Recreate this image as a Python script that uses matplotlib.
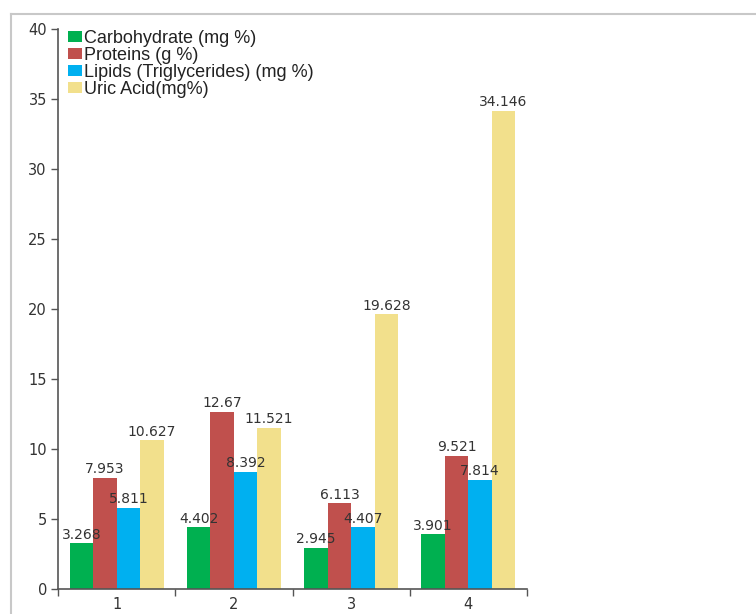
import matplotlib
matplotlib.use("Agg")
import matplotlib.pyplot as plt
from matplotlib.lines import Line2D
import numpy as np

categories = ["1", "2", "3", "4"]
series_names = ["Carbohydrate (mg %)", "Proteins (g %)",
                "Lipids (Triglycerides) (mg %)", "Uric Acid(mg%)"]
carbohydrate = [3.268, 4.402, 2.945, 3.901]
proteins = [7.953, 12.67, 6.113, 9.521]
lipids = [5.811, 8.392, 4.407, 7.814]
uric_acid = [10.627, 11.521, 19.628, 34.146]
colors = ["#00B050", "#C0504D", "#00B0F0", "#F2E08C"]
y_ticks = [0, 5, 10, 15, 20, 25, 30, 35, 40]

series = [carbohydrate, proteins, lipids, uric_acid]

fig = plt.figure(figsize=(7.56, 6.14), dpi=100)
ax = fig.add_axes([58 / 756, 1 - 589 / 614, (527 - 58) / 756, (589 - 29) / 614])

x = np.arange(len(categories))
bw = 0.2
for i, (vals, name, col) in enumerate(zip(series, series_names, colors)):
    pos = x - 0.3 + i * bw
    ax.bar(pos, vals, width=bw, color=col, label=name, linewidth=0)
    for p, v in zip(pos, vals):
        ax.text(p, v + 0.12, f"{v:g}", ha="center", va="bottom",
                fontsize=10, color="#333333", family="DejaVu Sans")

ax.set_xlim(-0.5, len(categories) - 0.5)
ax.set_ylim(0, 40)
ax.set_xticks(x)
ax.set_xticklabels(categories)
ax.set_xticks(np.arange(len(categories) + 1) - 0.5, minor=True)
ax.tick_params(axis="x", which="major", length=0, pad=6, labelsize=10.5,
               labelcolor="#333333")
ax.tick_params(axis="x", which="minor", length=5, direction="out",
               color="#555555", width=1)
ax.set_yticks(y_ticks)
ax.tick_params(axis="y", length=5, width=1, color="#555555", pad=3,
               labelsize=10.5, labelcolor="#333333")
for lab in ax.get_xticklabels() + ax.get_yticklabels():
    lab.set_family("DejaVu Sans")

for s in ["top", "right"]:
    ax.spines[s].set_visible(False)
for s in ["left", "bottom"]:
    ax.spines[s].set_color("#555555")
    ax.spines[s].set_linewidth(1.2)

leg = ax.legend(loc="upper left", bbox_to_anchor=(0.005, 1.012), frameon=False,
                handlelength=0.8, handleheight=0.55, handletextpad=0.12,
                labelspacing=0.0, borderaxespad=0.0,
                prop={"family": "Liberation Sans", "size": 13})
for t in leg.get_texts():
    t.set_color("#222222")

# outer frame lines along the top and left edge
fig.add_artist(Line2D([11 / 756, 1], [1 - 14 / 614, 1 - 14 / 614],
                      transform=fig.transFigure, color="#c8c8c8", lw=1.5))
fig.add_artist(Line2D([11 / 756, 11 / 756], [0, 1 - 14 / 614],
                      transform=fig.transFigure, color="#c8c8c8", lw=1.5))

fig.savefig("out.png", dpi=100)
